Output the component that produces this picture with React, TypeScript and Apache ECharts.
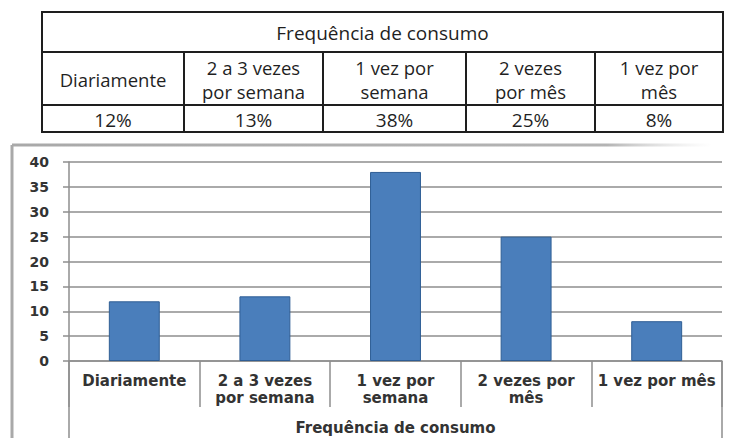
import React, { useEffect, useRef } from "react";
import * as echarts from "echarts";

// ---- data ----
const chartTitle = "Frequência de consumo";
const tableHeaders = [
  "Diariamente",
  "2 a 3 vezes\npor semana",
  "1 vez por\nsemana",
  "2 vezes\npor mês",
  "1 vez por\nmês",
];
const axisCategories = [
  "Diariamente",
  "2 a 3 vezes\npor semana",
  "1 vez por\nsemana",
  "2 vezes por\nmês",
  "1 vez por mês",
];
const percentages = [12, 13, 38, 25, 8];
const yMin = 0;
const yMax = 40;
const yInterval = 5;

// ---- layout (positions, not data) ----
const tableCols = [42, 184, 323, 466, 595, 723];
const tableRows = [12, 52, 105, 132];
const tableLineHeight = 24;

const TEXT_DARK = "#1f1f1f";
const GRID = "#8e8e8e";
const AXIS_FONT = "DejaVu Sans";
const TABLE_FONT = "Open Sans";

function buildTableGraphics(): any[] {
  const els: any[] = [];
  const left = tableCols[0];
  const right = tableCols[tableCols.length - 1];
  const top = tableRows[0];
  const bottom = tableRows[tableRows.length - 1];
  const border = { stroke: "#1e1e1e", lineWidth: 2 };
  els.push({
    type: "rect",
    shape: { x: left, y: top, width: right - left, height: bottom - top },
    style: { fill: "#fff", ...border },
  });
  for (let i = 1; i < tableRows.length - 1; i++) {
    els.push({
      type: "line",
      shape: { x1: left, y1: tableRows[i], x2: right, y2: tableRows[i] },
      style: border,
    });
  }
  for (let i = 1; i < tableCols.length - 1; i++) {
    els.push({
      type: "line",
      shape: { x1: tableCols[i], y1: tableRows[1], x2: tableCols[i], y2: bottom },
      style: border,
    });
  }
  const txt = (text: string, x: number, yMid: number, size: number) => {
    const lines = text.split("\n");
    const start = yMid - ((lines.length - 1) * tableLineHeight) / 2;
    return lines.map((line, k) => ({
      type: "text",
      x,
      y: start + k * tableLineHeight,
      style: {
        text: line,
        fill: TEXT_DARK,
        fontFamily: TABLE_FONT,
        fontSize: size,
        fontWeight: 500,
        align: "center",
        verticalAlign: "middle",
      },
    }));
  };
  els.push(...txt(chartTitle, (left + right) / 2, (tableRows[0] + tableRows[1]) / 2 + 1, 19));
  tableHeaders.forEach((h, i) => {
    const cx = (tableCols[i] + tableCols[i + 1]) / 2;
    els.push(...txt(h, cx, (tableRows[1] + tableRows[2]) / 2 + 1, 18.5));
    els.push(...txt(percentages[i] + "%", cx, (tableRows[2] + tableRows[3]) / 2 + 1.5, 19));
  });
  return els;
}

function buildFrameGraphics(): any[] {
  const frameColor = "#a9a9a9";
  return [
    {
      type: "line",
      shape: { x1: 12, y1: 145, x2: 12, y2: 438 },
      style: { stroke: frameColor, lineWidth: 3 },
    },
    {
      type: "line",
      shape: { x1: 12, y1: 145, x2: 712, y2: 145 },
      style: {
        stroke: new echarts.graphic.LinearGradient(
          12, 0, 712, 0,
          [
            { offset: 0, color: frameColor },
            { offset: 0.85, color: "#b4b4b4" },
            { offset: 1, color: "rgba(220,220,220,0)" },
          ],
          true
        ),
        lineWidth: 3,
      },
    },
    {
      type: "line",
      shape: { x1: 69, y1: 361, x2: 69, y2: 438 },
      style: { stroke: GRID, lineWidth: 1.5 },
    },
    {
      type: "line",
      shape: { x1: 722, y1: 361, x2: 722, y2: 438 },
      style: { stroke: GRID, lineWidth: 1.5 },
    },
  ];
}

export default function App() {
  const ref = useRef<HTMLDivElement>(null);
  useEffect(() => {
    if (!ref.current) return;
    const chart = echarts.init(ref.current, null, { renderer: "svg" });
    chart.setOption({
      animation: false,
      backgroundColor: "#ffffff",
      grid: { left: 69, right: 13, top: 162, bottom: 77, containLabel: false },
      xAxis: {
        type: "category",
        data: axisCategories,
        name: chartTitle,
        nameLocation: "middle",
        nameGap: 59,
        nameTextStyle: {
          fontFamily: AXIS_FONT,
          fontWeight: "bold",
          fontSize: 15,
          color: "#333",
        },
        axisLine: { show: true, lineStyle: { color: GRID, width: 1.5 } },
        axisTick: {
          show: true,
          interval: 0,
          length: 46,
          lineStyle: { color: GRID, width: 1.5 },
        },
        axisLabel: {
          interval: 0,
          margin: 11,
          lineHeight: 17,
          fontFamily: AXIS_FONT,
          fontWeight: "bold",
          fontSize: 15,
          color: "#333",
        },
        splitLine: { show: false },
      },
      yAxis: {
        type: "value",
        min: yMin,
        max: yMax,
        interval: yInterval,
        axisLine: { show: true, lineStyle: { color: GRID, width: 1.5 } },
        axisTick: { show: true, length: 6, lineStyle: { color: GRID, width: 1.5 } },
        axisLabel: {
          margin: 20,
          fontFamily: AXIS_FONT,
          fontWeight: "bold",
          fontSize: 14,
          color: "#333",
        },
        splitLine: { show: true, lineStyle: { color: GRID, width: 1.5 } },
      },
      series: [
        {
          type: "bar",
          data: percentages,
          barWidth: "39%",
          itemStyle: { color: "#4a7ebb", borderColor: "#2f5e95", borderWidth: 1 },
        },
      ],
      graphic: [...buildTableGraphics(), ...buildFrameGraphics()],
    });
    return () => chart.dispose();
  }, []);
  return (
    <div
      ref={ref}
      style={{ position: "fixed", left: 0, top: 0, width: 735, height: 438, background: "#fff" }}
    />
  );
}
